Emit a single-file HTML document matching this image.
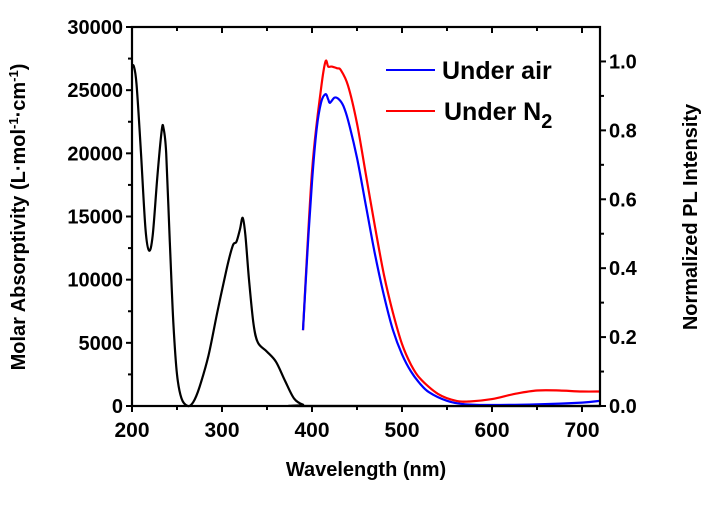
<!DOCTYPE html>
<html><head><meta charset="utf-8"><style>
body{margin:0;background:#fff}
text{font-family:"Liberation Sans",Arial,sans-serif;font-weight:bold}
</style></head><body>
<svg id="c" width="704" height="503" viewBox="0 0 704 503"></svg>
<script>
const absWl=[200,202,205,210,215,219,223,228,233,235,238,242,246,250,255,262,268,275,285,295,305,312,316,320,323,326,330,335,340,350,360,370,380,390,400,720];
const absVal=[26800,26900,25500,20000,14000,12300,13500,18000,21800,22000,20000,13000,6500,2500,600,0,300,1500,4000,7500,10800,12700,13000,14000,14900,13500,10000,6500,5000,4300,3500,2000,600,100,0,0];
const airWl=[390,395,400,405,410,415,418,420,425,430,435,440,450,460,470,480,490,500,510,520,530,550,570,600,650,700,720];
const airVal=[0.22,0.45,0.65,0.8,0.88,0.905,0.89,0.88,0.895,0.89,0.87,0.83,0.72,0.58,0.44,0.32,0.22,0.15,0.1,0.065,0.04,0.015,0.005,0.003,0.005,0.01,0.015];
const n2Wl=[390,400,410,415,418,422,428,432,440,450,460,470,480,490,500,510,520,540,560,575,600,625,650,675,700,720];
const n2Val=[0.22,0.68,0.92,1.0,0.985,0.985,0.98,0.975,0.93,0.82,0.67,0.52,0.38,0.27,0.18,0.12,0.08,0.035,0.015,0.013,0.02,0.035,0.045,0.045,0.042,0.042];
const xTicks=[200,300,400,500,600,700];
const yLTicks=[0,5000,10000,15000,20000,25000,30000];
const yRTicks=[0,0.2,0.4,0.6,0.8,1.0];
const X0=132,X1=600,Y0=406,Y1=27;
const x=v=>X0+(v-200)/(720-200)*(X1-X0);
const yl=v=>Y0-v/30000*(Y0-Y1);
const yr=v=>Y0-v/1.1*(Y0-Y1);
const svg=document.getElementById('c');
const NS='http://www.w3.org/2000/svg';
function mk(t,a,txt){const e=document.createElementNS(NS,t);for(const k in a)e.setAttribute(k,a[k]);if(txt!==undefined)e.textContent=txt;svg.appendChild(e);return e;}
function series(wl,vals,fy,col,name){
  const P=wl.map((w,i)=>[x(w),fy(vals[i])]);
  let d='M'+P[0][0].toFixed(1)+','+P[0][1].toFixed(1);
  for(let i=0;i<P.length-1;i++){
    const p0=P[Math.max(0,i-1)],p1=P[i],p2=P[i+1],p3=P[Math.min(P.length-1,i+2)];
    const t=0.16;
    const c1=[p1[0]+(p2[0]-p0[0])*t,p1[1]+(p2[1]-p0[1])*t];
    const c2=[p2[0]-(p3[0]-p1[0])*t,p2[1]-(p3[1]-p1[1])*t];
    d+='C'+c1.map(v=>v.toFixed(1)).join(',')+' '+c2.map(v=>v.toFixed(1)).join(',')+' '+p2.map(v=>v.toFixed(1)).join(',');
  }
  const p=mk('path',{d:d,fill:'none',stroke:col,'stroke-width':2.2,'stroke-linejoin':'round'});
  
  
}
series(absWl,absVal,yl,'#000','absorption-line');
series(n2Wl,n2Val,yr,'#f00','pl-under-n2-line');
series(airWl,airVal,yr,'#00f','pl-under-air-line');
const fr=mk('rect',{x:X0,y:Y1,width:X1-X0,height:Y0-Y1,fill:'none',stroke:'#000','stroke-width':2.2});


for(let v=200;v<=700;v+=50){const maj=v%100===0;
  mk('line',{x1:x(v),x2:x(v),y1:Y0,y2:Y0+(maj?6:4),stroke:'#000','stroke-width':2});
  mk('line',{x1:x(v),x2:x(v),y1:Y1,y2:Y1+(maj?6:4),stroke:'#000','stroke-width':2});}
xTicks.forEach(v=>{const t=mk('text',{x:x(v),y:Y0+31,'text-anchor':'middle','font-size':21},v);
  
  });
for(let v=0;v<=30000;v+=2500){const maj=v%5000===0;
  mk('line',{x1:X0,x2:X0-(maj?6:4),y1:yl(v),y2:yl(v),stroke:'#000','stroke-width':2});}
yLTicks.forEach(v=>{const t=mk('text',{x:X0-9,y:yl(v)+7,'text-anchor':'end','font-size':20},v);
  
  });
for(let i=0;i<=10;i++){const v=i/10,maj=i%2===0;
  mk('line',{x1:X1,x2:X1+(maj?6:4),y1:yr(v),y2:yr(v),stroke:'#000','stroke-width':2});}
yRTicks.forEach(v=>{const t=mk('text',{x:X1+9,y:yr(v)+7,'font-size':20},v.toFixed(1));
  
  });
</script>
<svg width="704" height="503" style="position:absolute;left:0;top:0">
<text x="366" y="476" text-anchor="middle" font-size="20">Wavelength (nm)</text>
<text transform="translate(25,217) rotate(-90)" text-anchor="middle" font-size="20">Molar Absorptivity (L·mol<tspan font-size="13" dy="-7">-1</tspan><tspan dy="7">·cm</tspan><tspan font-size="13" dy="-7">-1</tspan><tspan dy="7">)</tspan></text>
<text transform="translate(697,217) rotate(-90)" text-anchor="middle" font-size="20">Normalized PL Intensity</text>
<g>
<line x1="386" x2="435" y1="70" y2="70" stroke="#00f" stroke-width="2"/>
<text x="442" y="79" font-size="25">Under air</text>
<line x1="386" x2="435" y1="111" y2="111" stroke="#f00" stroke-width="2"/>
<text x="444" y="120" font-size="25">Under N<tspan font-size="20" dy="8">2</tspan></text>
</g>
</svg>
</body></html>
